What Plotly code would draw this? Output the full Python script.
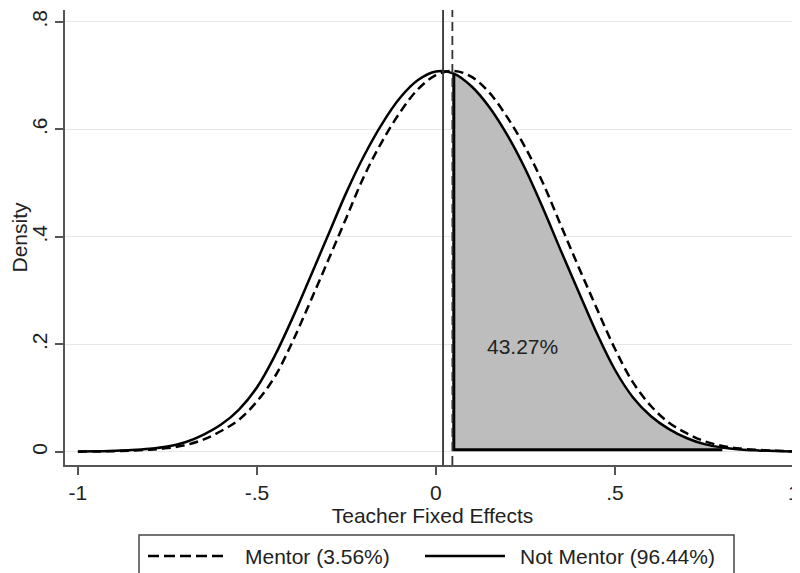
import numpy as np
import plotly.graph_objects as go

# ---- data ----
x_grid = [-1.00, -0.95, -0.90, -0.85, -0.80, -0.75, -0.70, -0.65, -0.60, -0.55,
          -0.50, -0.45, -0.40, -0.35, -0.30, -0.25, -0.20, -0.15, -0.10, -0.05,
          0.00, 0.05, 0.10, 0.15, 0.20, 0.25, 0.30, 0.35, 0.40, 0.45,
          0.50, 0.55, 0.60, 0.65, 0.70, 0.75, 0.80, 0.85, 0.90, 0.95, 1.00]

not_mentor = [0.0007, 0.0012, 0.0021, 0.0035, 0.0060, 0.0103, 0.0182, 0.032, 0.051, 0.079,
              0.120, 0.179, 0.250, 0.327, 0.405, 0.483, 0.552, 0.611, 0.659, 0.692,
              0.708, 0.704, 0.680, 0.641, 0.589, 0.526, 0.452, 0.373, 0.296, 0.220,
              0.153, 0.102, 0.067, 0.043, 0.026, 0.0146, 0.0083, 0.0048, 0.0029, 0.0017, 0.0010]

mentor = [0.0005, 0.0009, 0.0015, 0.0026, 0.0043, 0.0073, 0.0127, 0.023, 0.039, 0.060,
          0.094, 0.140, 0.206, 0.281, 0.358, 0.436, 0.514, 0.578, 0.632, 0.675,
          0.701, 0.709, 0.698, 0.668, 0.622, 0.566, 0.499, 0.420, 0.342, 0.266,
          0.192, 0.130, 0.086, 0.055, 0.035, 0.0201, 0.0113, 0.0065, 0.0038, 0.0023, 0.0013]

mean_not_mentor = 0.020
mean_mentor = 0.046
shade_from = 0.05
shade_to = 0.80
shade_base = 0.004
shade_label = "43.27%"
shade_label_pos = (0.243, 0.196)

legend_labels = ["Mentor (3.56%)", "Not Mentor (96.44%)"]
x_ticks = [-1, -0.5, 0, 0.5, 1]
x_ticktext = ["-1", "-.5", "0", ".5", "1"]
y_ticks = [0, 0.2, 0.4, 0.6, 0.8]
y_ticktext = ["0", ".2", ".4", ".6", ".8"]

FONT = "Liberation Sans, Arial, sans-serif"
FS = 21
TXT = "#222222"
AX = "#555555"

xg = np.array(x_grid)
nm = np.array(not_mentor)
mask = (xg >= shade_from) & (xg <= shade_to)
shade_x = xg[mask]
shade_y = nm[mask]

fig = go.Figure()

# shaded area under the Not Mentor curve
fig.add_trace(go.Scatter(x=shade_x, y=[shade_base] * len(shade_x), mode="lines",
                         line=dict(width=0, color="rgba(0,0,0,0)"), hoverinfo="skip",
                         showlegend=False))
fig.add_trace(go.Scatter(x=shade_x, y=shade_y, mode="lines", fill="tonexty",
                         fillcolor="#bdbdbd", line=dict(width=0, shape="spline", color="rgba(0,0,0,0)"),
                         hoverinfo="skip", showlegend=False))
top_y = float(np.interp(shade_from, xg, nm))
fig.add_trace(go.Scatter(x=[shade_from, shade_from, shade_x[-1]], y=[top_y, shade_base, shade_base],
                         mode="lines", line=dict(color="black", width=3), showlegend=False,
                         hoverinfo="skip"))

fig.add_trace(go.Scatter(x=x_grid, y=mentor, mode="lines", name=legend_labels[0],
                         line=dict(color="black", width=2.5, dash="9px,5px", shape="spline"),
                         showlegend=False))
fig.add_trace(go.Scatter(x=x_grid, y=not_mentor, mode="lines", name=legend_labels[1],
                         line=dict(color="black", width=2.5, shape="spline"),
                         showlegend=False))

# mean lines
fig.add_shape(type="line", xref="x", yref="paper", x0=mean_not_mentor, x1=mean_not_mentor,
              y0=0, y1=1, line=dict(color="#333333", width=1.8))
fig.add_shape(type="line", xref="x", yref="paper", x0=mean_mentor, x1=mean_mentor,
              y0=0, y1=1, line=dict(color="#333333", width=1.8, dash="9px,5px"))

fig.add_annotation(x=shade_label_pos[0], y=shade_label_pos[1], text=shade_label, showarrow=False,
                   font=dict(family=FONT, size=FS, color=TXT))

# legend box drawn below the plot (paper coordinates)
fig.add_shape(type="rect", xref="paper", yref="paper", x0=0.1007, x1=0.9102, y0=-0.2527, y1=-0.1538,
              line=dict(color="#444444", width=1.5), fillcolor="white")
fig.add_shape(type="line", xref="paper", yref="paper", x0=0.1129, x1=0.2218, y0=-0.2, y1=-0.2,
              line=dict(color="black", width=2.5, dash="11px,5px"))
fig.add_shape(type="line", xref="paper", yref="paper", x0=0.4898, x1=0.5986, y0=-0.2, y1=-0.2,
              line=dict(color="black", width=2.5))
fig.add_annotation(xref="paper", yref="paper", x=0.2422, y=-0.2, text=legend_labels[0],
                   showarrow=False, xanchor="left", yanchor="middle",
                   font=dict(family=FONT, size=FS, color=TXT))
fig.add_annotation(xref="paper", yref="paper", x=0.6163, y=-0.2, text=legend_labels[1],
                   showarrow=False, xanchor="left", yanchor="middle",
                   font=dict(family=FONT, size=FS, color=TXT))

fig.update_layout(
    width=792, height=565,
    margin=dict(l=57, r=0, t=2, b=108),
    paper_bgcolor="white", plot_bgcolor="white",
    font=dict(family=FONT, size=FS, color=TXT),
    showlegend=False,
    xaxis=dict(range=[-1.036, 1.017], tickvals=x_ticks, ticktext=x_ticktext,
               showline=True, linecolor=AX, linewidth=1.5, ticks="outside", ticklen=8,
               tickcolor=AX, tickwidth=1.5, showgrid=False, zeroline=False,
               title=dict(text="Teacher Fixed Effects", standoff=2,
                          font=dict(family=FONT, size=FS, color=TXT)),
               tickfont=dict(family=FONT, size=FS, color=TXT)),
    yaxis=dict(range=[-0.0242, 0.8223], tickvals=y_ticks, ticktext=y_ticktext,
               showline=True, linecolor=AX, linewidth=1.5, ticks="outside", ticklen=8,
               tickcolor=AX, tickwidth=1.5, showgrid=True, gridcolor="#e6e6e6", gridwidth=1,
               zeroline=False, tickangle=-90,
               title=dict(text="Density", standoff=0,
                          font=dict(family=FONT, size=FS, color=TXT)),
               tickfont=dict(family=FONT, size=FS, color=TXT)),
)

fig.write_html("out.html")
